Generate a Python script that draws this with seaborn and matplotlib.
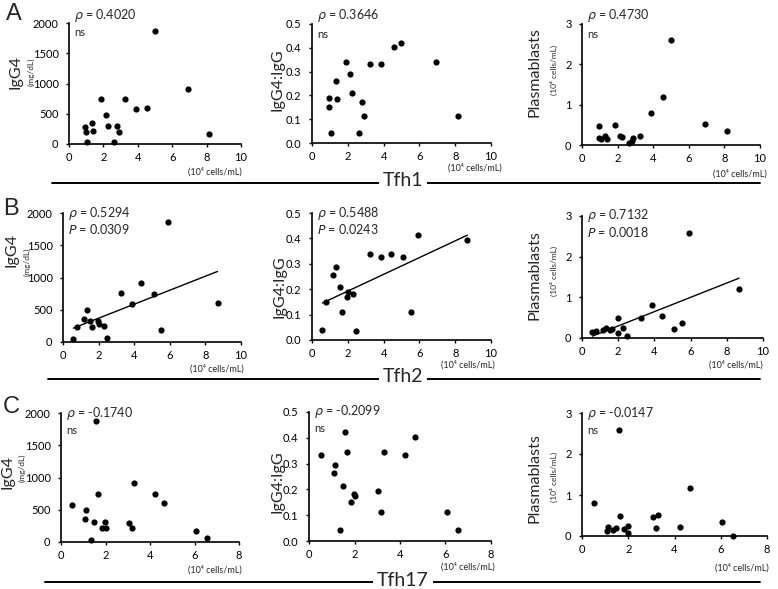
import matplotlib
matplotlib.use("Agg")
import matplotlib.pyplot as plt
import seaborn as sns
import pandas as pd
from matplotlib.lines import Line2D

# ---------------- data ----------------
tfh1 = [0.95, 0.97, 1.05, 1.32, 1.38, 1.88, 2.15, 2.26, 2.63, 2.80, 2.88, 3.25, 3.87, 4.56, 4.98, 6.92, 8.15]
igg4_tfh1 = [285, 197, 27, 345, 219, 745, 482, 301, 38, 301, 203, 745, 580, 591, 1867, 909, 164]
ratio_tfh1 = [0.191, 0.152, 0.040, 0.261, 0.183, 0.341, 0.292, 0.209, 0.040, 0.172, 0.112, 0.332, 0.332, 0.402, 0.422, 0.341, 0.112]
pb_tfh1 = [0.47, 0.17, 0.15, 0.23, 0.16, 0.49, 0.22, 0.21, 0.04, 0.11, 0.18, 0.22, 0.80, 1.18, 2.60, 0.51, 0.34]

tfh2 = [0.58, 0.79, 1.17, 1.33, 1.54, 1.65, 1.97, 2.01, 2.29, 2.46, 3.25, 3.85, 4.40, 5.11, 5.53, 5.92, 8.68]
igg4_tfh2 = [47, 228, 363, 503, 326, 233, 321, 285, 244, 57, 762, 591, 922, 751, 181, 1860, 611]
ratio_tfh2 = [0.040, 0.150, 0.257, 0.289, 0.209, 0.111, 0.169, 0.189, 0.180, 0.036, 0.338, 0.328, 0.338, 0.328, 0.111, 0.415, 0.395]
pb_tfh2 = [0.15, 0.16, 0.19, 0.24, 0.20, 0.22, 0.50, 0.12, 0.25, 0.04, 0.50, 0.82, 0.53, 0.22, 0.37, 2.59, 1.20]

tfh17 = [0.51, 1.10, 1.14, 1.35, 1.49, 1.59, 1.65, 1.83, 1.98, 2.00, 3.05, 3.18, 3.29, 4.23, 4.65, 6.07, 6.55]
igg4_tfh17 = [574, 357, 491, 31, 305, 1871, 744, 212, 305, 222, 289, 212, 915, 744, 605, 176, 57]
ratio_tfh17 = [0.334, 0.265, 0.295, 0.043, 0.214, 0.424, 0.345, 0.153, 0.184, 0.174, 0.193, 0.112, 0.344, 0.334, 0.405, 0.112, 0.041]
pb_tfh17 = [0.80, 0.13, 0.21, 0.15, 0.20, 2.59, 0.48, 0.18, 0.24, 0.08, 0.46, 0.20, 0.52, 0.21, 1.18, 0.34, 0.01]

row_names = ["Tfh1", "Tfh2", "Tfh17"]
panel_letters = ["A", "B", "C"]
rho_tfh1 = ["0.4020", "0.3646", "0.4730"]
rho_tfh2 = ["0.5294", "0.5488", "0.7132"]
rho_tfh17 = ["-0.1740", "-0.2099", "-0.0147"]
p_tfh1 = ["ns", "ns", "ns"]
p_tfh2 = ["0.0309", "0.0243", "0.0018"]
p_tfh17 = ["ns", "ns", "ns"]

y_labels = ["IgG4", "IgG4:IgG", "Plasmablasts"]
y_sublabels = ["(mg/dL)", "", "(10\u2074 cells/mL)"]
x_unit = "(10\u2074 cells/mL)"
yticks_igg4 = [0, 500, 1000, 1500, 2000]
yticks_ratio = [0.0, 0.1, 0.2, 0.3, 0.4, 0.5]
yticks_pb = [0, 1, 2, 3]
xticks_wide = [0, 2, 4, 6, 8, 10]
xticks_narrow = [0, 2, 4, 6, 8]

# ---------------- style ----------------
sns.set_style("ticks")
FONT = ["Lato", "DejaVu Sans"]
plt.rcParams["font.family"] = FONT

W, H = 778, 589
fig = plt.figure(figsize=(W / 100, H / 100), dpi=100)


def px_axes(l, r, t, b):
    return fig.add_axes([l / W, 1 - b / H, (r - l) / W, (b - t) / H])


def fx(x):
    return x / W


def fy(y):
    return 1 - y / H


rows = [
    dict(x=tfh1, ys=[igg4_tfh1, ratio_tfh1, pb_tfh1], rho=rho_tfh1, p=p_tfh1, fit=False,
         xticks=xticks_wide,
         boxes=[(69, 241, 23, 144), (312, 491, 24, 143), (582, 760, 24, 145)],
         lab=[(15, 72, 31, 72), (277, 80, None, None), (534, 72, 554, 70)],
         unit=[(215, 172), (475, 168), (740, 174)],
         txt=(8, -18), line_y=183, line_x=(52, 760), letter=(14, 14)),
    dict(x=tfh2, ys=[igg4_tfh2, ratio_tfh2, pb_tfh2], rho=rho_tfh2, p=p_tfh2, fit=True,
         xticks=xticks_wide,
         boxes=[(63, 241, 213, 342), (312, 491, 213, 340), (582, 763, 216, 338)],
         lab=[(12, 250, 27, 262), (279, 287, None, None), (535, 275, 554, 271)],
         unit=[(217, 369), (468, 365), (736, 365)],
         txt=(0, -16), line_y=379, line_x=(48, 760), letter=(11, 209)),
    dict(x=tfh17, ys=[igg4_tfh17, ratio_tfh17, pb_tfh17], rho=rho_tfh17, p=p_tfh17, fit=False,
         xticks=xticks_narrow,
         boxes=[(61, 239, 413, 542), (309, 491, 412, 541), (582, 767, 413, 536)],
         lab=[(8, 472, 22, 468), (277, 482, None, None), (534, 478, 554, 477)],
         unit=[(215, 570), (468, 567), (742, 568)],
         txt=(0, -17), line_y=582, line_x=(45, 760), letter=(11, 407)),
]

ytick_sets = [yticks_igg4, yticks_ratio, yticks_pb]
yfmt = ["{:.0f}", "{:.1f}", "{:.0f}"]

for ri, row in enumerate(rows):
    for ci in range(3):
        l, r, t, b = row["boxes"][ci]
        ax = px_axes(l, r, t, b)
        df = pd.DataFrame({"x": row["x"], "y": row["ys"][ci]})
        sns.scatterplot(data=df, x="x", y="y", ax=ax, color="black", s=20,
                        edgecolor="black", linewidth=0, clip_on=False, zorder=3)
        if row["fit"]:
            sns.regplot(data=df, x="x", y="y", ax=ax, scatter=False, ci=None,
                        color="black", line_kws=dict(lw=1.0))
        xt = row["xticks"]
        yt = ytick_sets[ci]
        ax.set_xlim(xt[0], xt[-1])
        ax.set_ylim(yt[0], yt[-1])
        ax.set_xticks(xt)
        ax.set_yticks(yt)
        ax.set_xticklabels([str(v) for v in xt])
        ax.set_yticklabels([yfmt[ci].format(v) for v in yt])
        ax.set_xlabel("")
        ax.set_ylabel("")
        for s in ["top", "right"]:
            ax.spines[s].set_visible(False)
        for s in ["left", "bottom"]:
            ax.spines[s].set_linewidth(1.2)
            ax.spines[s].set_color("black")
        ax.tick_params(axis="both", direction="out", length=2.5, width=1.0,
                       labelsize=8, colors="black")
        ax.tick_params(axis="y", pad=5)
        ax.tick_params(axis="x", pad=3.5)
        ax.patch.set_alpha(0)

        # statistics text
        dy0, dy1 = row["txt"]
        ax.annotate(r"$\rho$ = " + row["rho"][ci], xy=(0, 1), xycoords="axes fraction",
                    xytext=(3.5, dy0 * 0.72), textcoords="offset points",
                    ha="left", va="center", fontsize=9)
        ptxt = row["p"][ci]
        if ptxt != "ns":
            ptxt = r"$P$ = " + ptxt
        ax.annotate(ptxt, xy=(0, 1), xycoords="axes fraction",
                    xytext=(3.5, (dy0 + dy1) * 0.72), textcoords="offset points",
                    ha="left", va="center", fontsize=9 if ptxt != "ns" else 8)

        # y labels
        mx, my, sx, sy = row["lab"][ci]
        fig.text(fx(mx), fy(my), y_labels[ci], rotation=90, ha="center", va="center",
                 fontsize=11.5)
        if sx is not None:
            fig.text(fx(sx), fy(sy), y_sublabels[ci], rotation=90, ha="center",
                     va="center", fontsize=6)
        ux, uy = row["unit"][ci]
        fig.text(fx(ux), fy(uy), x_unit, ha="center", va="center", fontsize=6.5)

    # row separator line with label
    x0, x1 = row["line_x"]
    ly = row["line_y"]
    fig.add_artist(Line2D([fx(x0), fx(x1)], [fy(ly), fy(ly)], color="black", lw=1.4))
    fig.text(fx(403), fy(ly - 2), row_names[ri], ha="center", va="center", fontsize=14,
             bbox=dict(facecolor="white", edgecolor="none", pad=3))
    lx, lyy = row["letter"]
    fig.text(fx(lx), fy(lyy), panel_letters[ri], ha="center", va="center", fontsize=17,
             family=["Liberation Sans", "DejaVu Sans"])

fig.savefig("out.png", dpi=100, facecolor="white")
